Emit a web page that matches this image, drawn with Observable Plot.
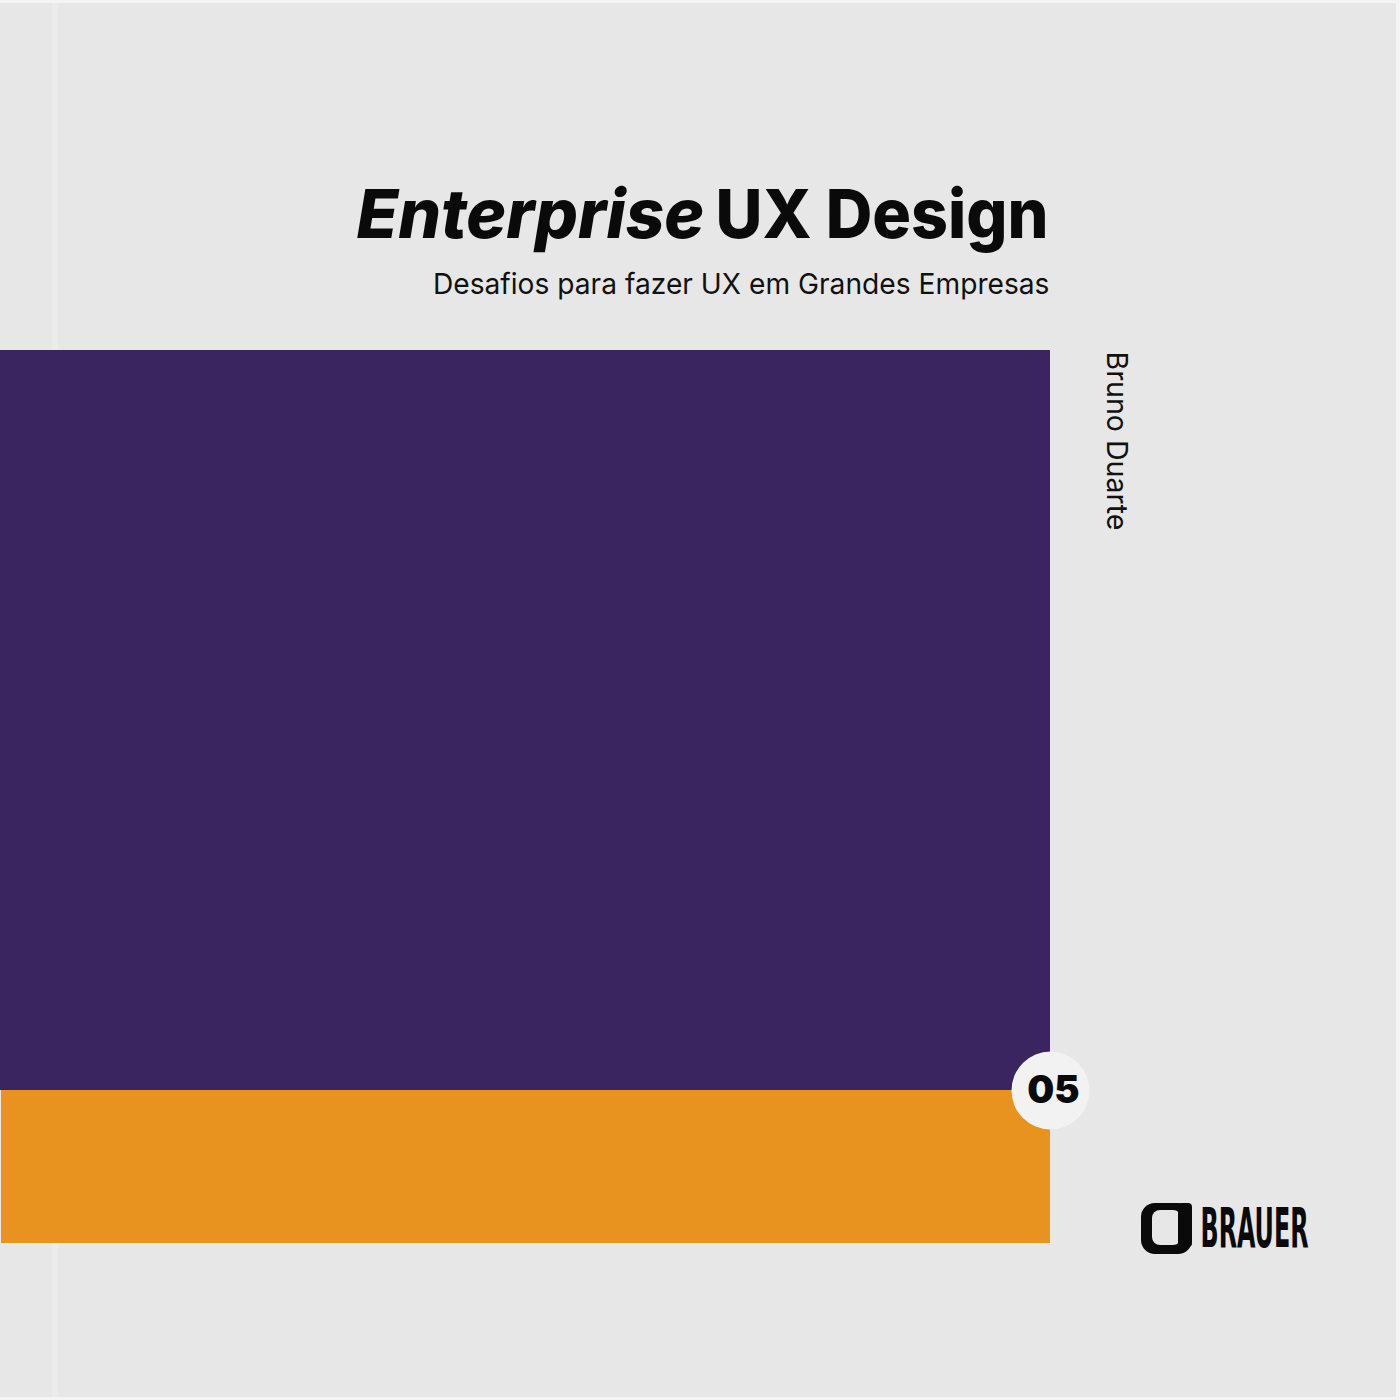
<!DOCTYPE html>
<html>
<head>
<meta charset="utf-8">
<script src="https://cdn.jsdelivr.net/npm/d3@7"></script>
<script src="https://cdn.jsdelivr.net/npm/@observablehq/plot@0.6"></script>
<style>
  html, body { margin: 0; padding: 0; background: #f4f4f4; }
  #chart svg { display: block; }
</style>
</head>
<body>
<div id="chart"></div>
<script>
// Cover blocks (in cover units, 0..1400, y downward)
const blockNames = ["page", "purple", "orange"];
const blockX1 = [0, 0, 1];
const blockX2 = [1396, 1050, 1050];
const blockY1 = [3, 350, 1090];
const blockY2 = [1397, 1090, 1243];
const blockFill = ["#e7e7e7", "#3a2561", "#e8921f"];

// Texts
const titleItalic = "Enterprise";
const titleUpright = "UX Design";
const subtitle = "Desafios para fazer UX em Grandes Empresas";
const author = "Bruno Duarte";
const volume = "05";
const publisher = "BRAUER";

// target widths of texts
const fitNames = [titleItalic, titleUpright, subtitle, publisher];
const fitWidths = [348, 333, 617, 108];

const blocks = blockNames.map((name, i) => ({
  name, x1: blockX1[i], x2: blockX2[i], y1: blockY1[i], y2: blockY2[i], fill: blockFill[i]
}));

const W = 1400, H = 1400;

const plot = Plot.plot({
  width: W,
  height: H,
  margin: 0,
  x: { domain: [0, W], axis: null },
  y: { domain: [0, H], axis: null, range: [0, H] },
  style: { background: "#f4f4f4", fontFamily: "Inter, 'Noto Sans', sans-serif" },
  marks: [
    Plot.rect(blocks, { x1: "x1", x2: "x2", y1: "y1", y2: "y2", fill: "fill" }),
    // spine crease
    Plot.rect([{ a: 52, b: 58 }], { x1: "a", x2: "b", y1: 3, y2: 350, fill: "#ebebeb" }),
    Plot.rect([{ a: 52, b: 58 }], { x1: "a", x2: "b", y1: 1243, y2: 1397, fill: "#ebebeb" }),
    // title
    Plot.text([titleUpright], {
      x: 1048, y: 237, text: d => d, textAnchor: "end", lineAnchor: "bottom",
      fontSize: 68, fontWeight: 800, fill: "#0a0a0a", fontFamily: "Inter"
    }),
    Plot.text([titleItalic], {
      x: 704, y: 237, text: d => d, textAnchor: "end", lineAnchor: "bottom",
      fontSize: 68, fontWeight: 800, fontStyle: "italic", fill: "#0a0a0a", fontFamily: "Inter"
    }),
    // subtitle
    Plot.text([subtitle], {
      x: 1049, y: 293, text: d => d, textAnchor: "end", lineAnchor: "bottom",
      fontSize: 29, fontWeight: 400, fill: "#111", fontFamily: "Inter"
    }),
    // author, vertical
    Plot.text([author], {
      x: 1116, y: 351, text: d => d, textAnchor: "start", lineAnchor: "middle",
      rotate: 90, fontSize: 28.6, fontWeight: 400, fill: "#111", fontFamily: "Inter"
    }),
    // volume badge
    Plot.dot([volume], { x: 1050, y: 1090, r: 39, fill: "#f2f2f2", stroke: "none" }),
    Plot.text([volume], {
      x: 1053, y: 1090, text: d => d, textAnchor: "middle", lineAnchor: "middle",
      fontSize: 38, fontWeight: 900, fill: "#0a0a0a", fontFamily: "Inter"
    }),
    // publisher logo mark
    Plot.rect([publisher], { x1: 1141, x2: 1192, y1: 1203, y2: 1254, fill: "#0a0a0a", rx: 14 }),
    Plot.rect([publisher], { x1: 1152, x2: 1181, y1: 1210, y2: 1245, fill: "#e7e7e7", rx: 8 }),
    Plot.rect([publisher], { x1: 1178, x2: 1192, y1: 1203, y2: 1247, fill: "#0a0a0a", rx: 4 }),
    Plot.text([publisher], {
      x: 1200, y: 1246, text: d => d, textAnchor: "start", lineAnchor: "bottom",
      fontSize: 56, fontWeight: 700, fill: "#0a0a0a", fontFamily: "'DejaVu Sans Condensed', 'Liberation Sans Narrow', sans-serif"
    })
  ]
});

document.getElementById("chart").appendChild(plot);

// fit texts horizontally to the widths
d3.select(plot).selectAll("text").each(function () {
  const k = fitNames.indexOf(this.textContent);
  if (k < 0) return;
  const w = this.getBBox().width;
  if (!w) return;
  const sx = fitWidths[k] / w;
  const tr = this.getAttribute("transform") || "";
  const x = +(this.getAttribute("x") || 0), y = +(this.getAttribute("y") || 0);
  this.removeAttribute("x");
  this.removeAttribute("y");
  this.setAttribute("transform", `${tr} translate(${x},${y}) scale(${sx},1)`);
});
</script>
</body>
</html>
